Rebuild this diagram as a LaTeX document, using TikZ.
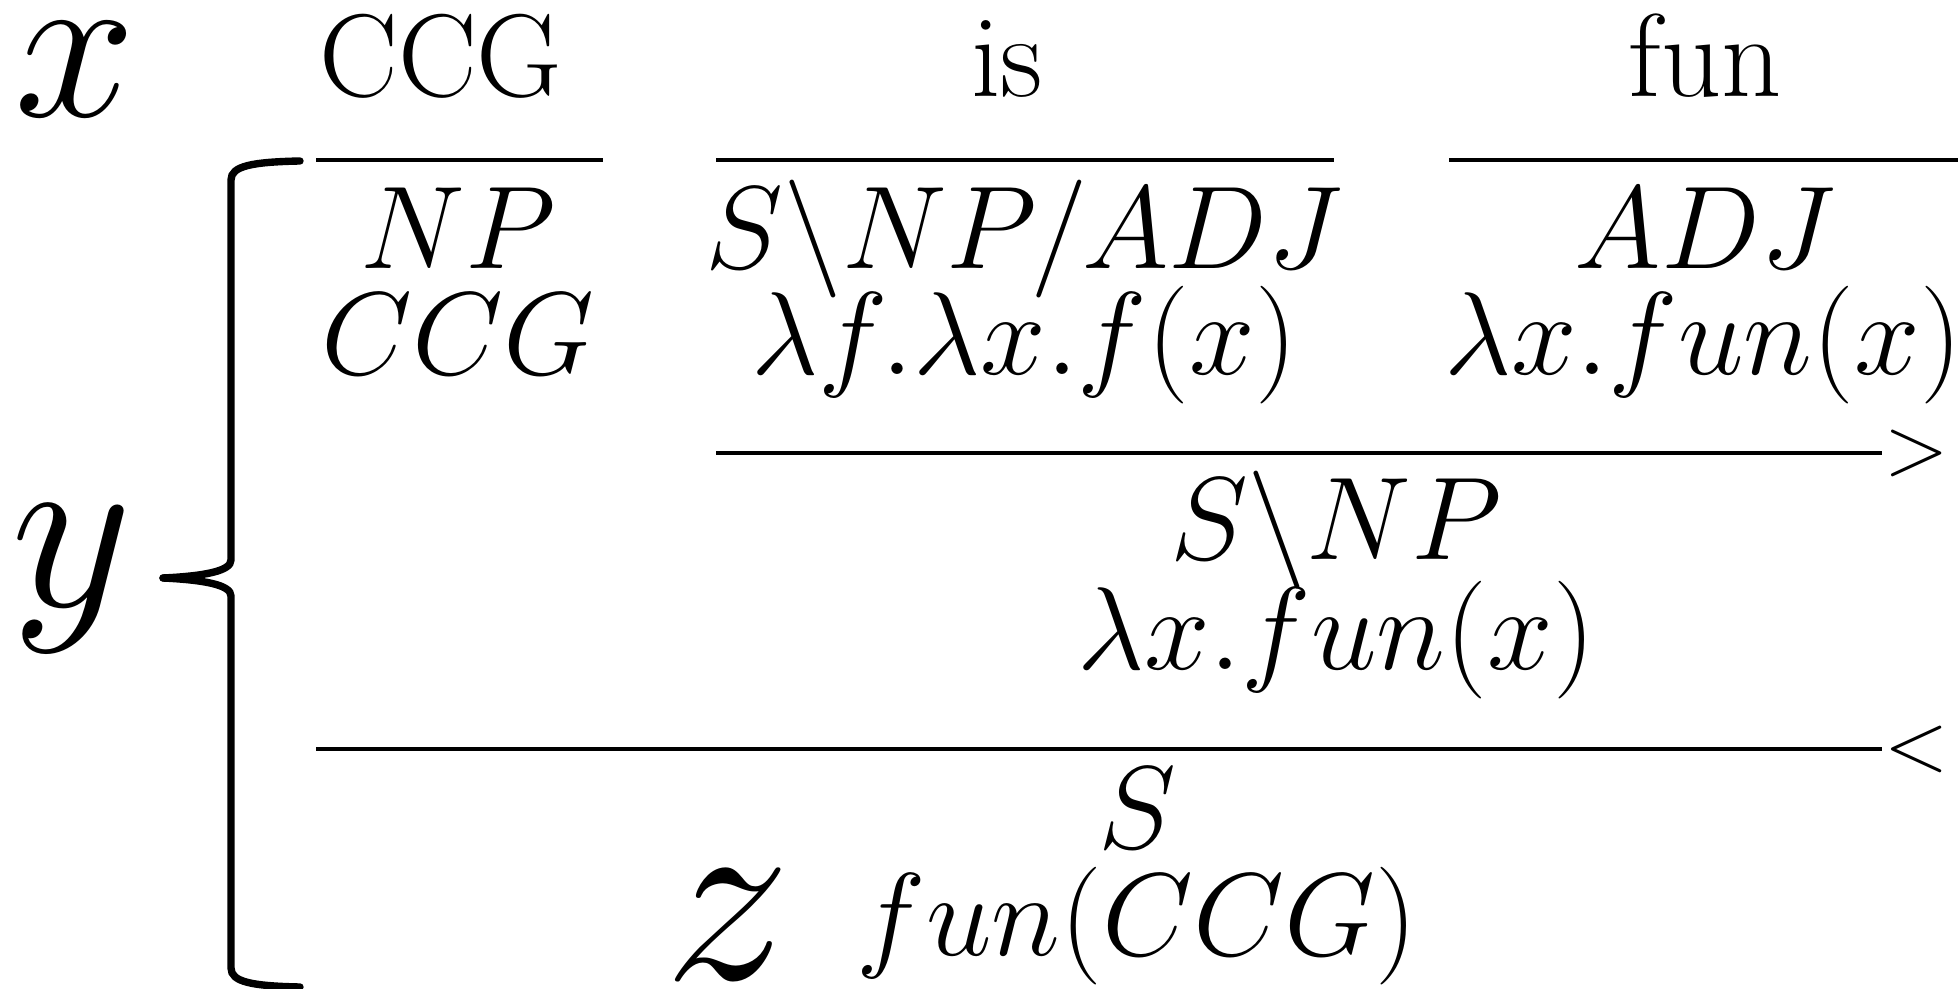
\RequirePackage{fix-cm}
\documentclass[tikz,border=0pt]{standalone}
\usepackage{tikz}
\usetikzlibrary{positioning}
\tikzset{
  word/.style={
    anchor=base, inner sep=0pt,
    font=\fontsize{33.5}{40}\selectfont
  },
  cat/.style={
    anchor=base, inner sep=0pt,
    font=\fontsize{33.5}{40}\selectfont
  },
  var/.style={
    anchor=base, inner sep=0pt,
    font=\fontsize{62}{74}\selectfont
  },
  tag/.style={
    anchor=west, inner sep=0pt,
    font=\fontsize{24}{28}\selectfont
  },
  bar/.style={line width=1.4pt},
  bracket/.style={line width=2.1pt, line cap=round},
}

\begin{document}
\begin{tikzpicture}[x=0.01cm, y=-0.01cm]
  \useasboundingbox (0,0) rectangle (1958,989);

  \node (lblx)  [var]  at (75,117)   {$x$};
  \node (lbly)  [var, font=\fontsize{67}{80}\selectfont] at (72,607) {$y$};
  \node (lblz)  [var, font=\fontsize{72}{86}\selectfont] at (728,979) {$z$};

  \node (wccg)  [word] at (441,97)   {CCG};
  \node (wis)   [word] at (1007,97)  {is};
  \node (wfun)  [word] at (1705,97)  {fun};

  \node (cnp)   [cat]  at (458,269)  {$NP$};
  \node (cis)   [cat]  at (1024,269) {$S\backslash NP/ADJ$};
  \node (cadj)  [cat]  at (1705,269) {$ADJ$};

  \node (sccg)  [cat]  at (458,375)  {$CCG$};
  \node (sis)   [cat]  at (1024,375) {$\lambda f.\lambda x.f(x)$};
  \node (sfun)  [cat]  at (1703,375) {$\lambda x.fun(x)$};

  \node (cvp)   [cat]  at (1336,560) {$S\backslash NP$};
  \node (svp)   [cat]  at (1336,670) {$\lambda x.fun(x)$};

  \node (cs)    [cat]  at (1137,849) {$S$};
  \node (ss)    [cat]  at (1137,955) {$fun(CCG)$};

  \node (fwd)   [tag]  at (1884,453) {$>$};
  \node (bwd)   [tag]  at (1884,749) {$<$};

  \draw [bar] (316,160) -- (603,160);
  \draw [bar] (716,160) -- (1334,160);
  \draw [bar] (1449,160) -- (1958,160);
  \draw [bar] (716,453) -- (1882,453);
  \draw [bar] (316,749) -- (1882,749);

  \draw [bracket] (300,161) .. controls (252,162) and (231,166) .. (231,180)
    -- (231,560) .. controls (231,571) and (205,576) .. (163,578);
  \draw [bracket] (163,578) .. controls (205,580) and (231,585) .. (231,596)
    -- (231,968) .. controls (231,982) and (252,986) .. (300,987);
\end{tikzpicture}
\end{document}
